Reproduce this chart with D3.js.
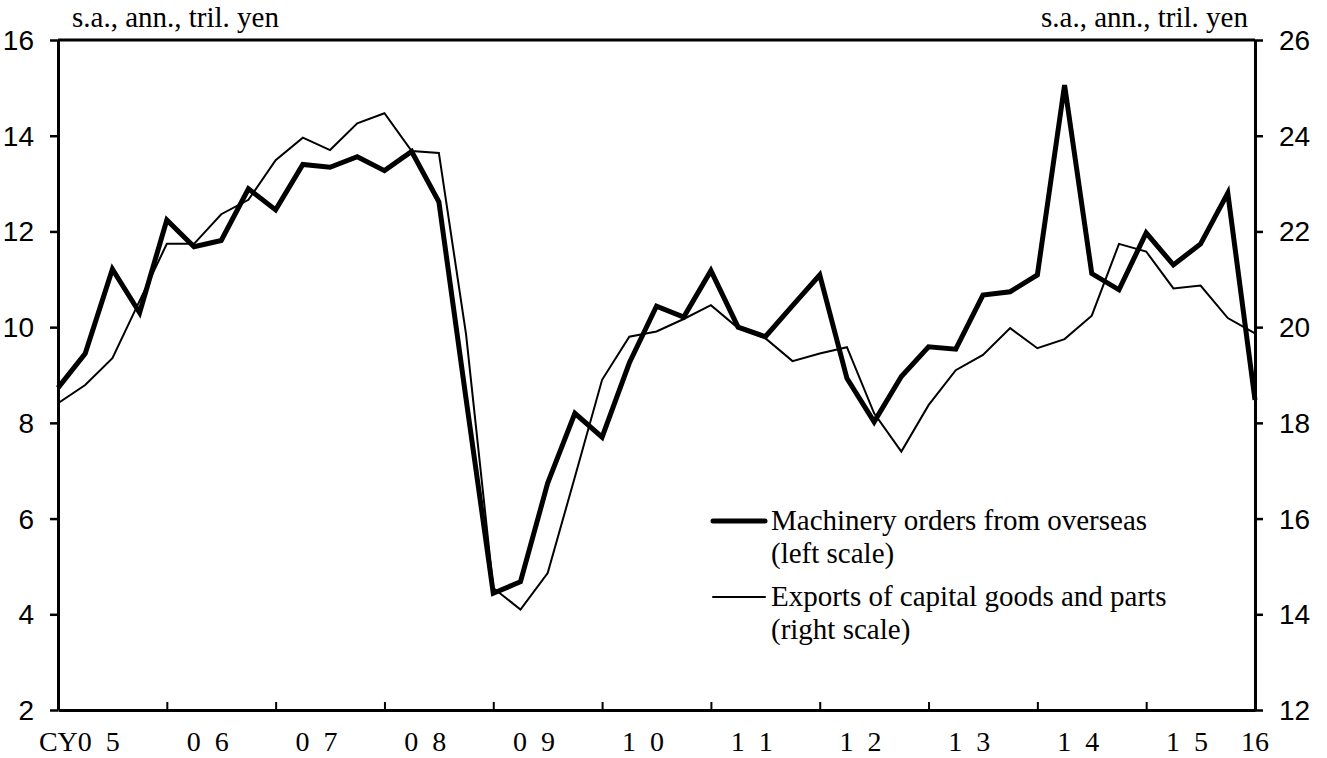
<!DOCTYPE html>
<html>
<head>
<meta charset="utf-8">
<script src="https://cdn.jsdelivr.net/npm/d3@7"></script>
<style>
  html, body { margin: 0; padding: 0; background: #fff; }
  svg { display: block; font-family: "Liberation Serif", "Times New Roman", serif; }
  .axis path, .axis line { stroke: #000; }
  .axis text { fill: #000; font-size: 28px; }
</style>
</head>
<body>
<svg id="chart" width="1327" height="758"></svg>
<script>
// Quarterly, CY2005 Q1 .. CY2016 Q1
const machineryOrders = [
  8.73, 9.45, 11.21, 10.30, 12.24, 11.68, 11.81, 12.89, 12.45, 13.40,
  13.34, 13.56, 13.27, 13.67, 12.62, 8.50, 4.44, 4.68, 6.74, 8.20,
  7.70, 9.25, 10.44, 10.21, 11.18, 10.00, 9.80, 10.45, 11.09, 8.93,
  8.02, 8.97, 9.59, 9.54, 10.67, 10.74, 11.09, 15.06, 11.12, 10.78,
  11.97, 11.30, 11.74, 12.80, 8.48
];
const capitalExports = [
  18.41, 18.79, 19.35, 20.55, 21.74, 21.74, 22.36, 22.66, 23.49, 23.96,
  23.70, 24.26, 24.47, 23.68, 23.64, 19.85, 14.55, 14.10, 14.86, 16.87,
  18.90, 19.80, 19.91, 20.17, 20.46, 19.98, 19.77, 19.29, 19.45, 19.58,
  18.20, 17.40, 18.37, 19.10, 19.42, 19.98, 19.56, 19.75, 20.24, 21.74,
  21.58, 20.81, 20.87, 20.19, 19.87
];
const yearLabels = ['CY0  5', '0  6', '0  7', '0  8', '0  9', '1  0', '1  1', '1  2', '1  3', '1  4', '1  5', '16'];
const leftTicks = [2, 4, 6, 8, 10, 12, 14, 16];
const rightTicks = [12, 14, 16, 18, 20, 22, 24, 26];
const unitLabel = 's.a., ann., tril. yen';
const legendItems = [
  { lines: ['Machinery orders from overseas', '(left scale)'], width: 5 },
  { lines: ['Exports of capital goods and parts', '(right scale)'], width: 2 },
];

const svg = d3.select('#chart');
const m = { left: 58, right: 1255, top: 40, bottom: 710 };

const x = d3.scaleLinear().domain([0, machineryOrders.length - 1]).range([m.left, m.right]);
const yL = d3.scaleLinear().domain([2, 16]).range([m.bottom, m.top]);
const yR = d3.scaleLinear().domain([12, 26]).range([m.bottom, m.top]);

// top border of the frame
svg.append('line')
  .attr('x1', m.left).attr('x2', m.right)
  .attr('y1', m.top).attr('y2', m.top)
  .attr('stroke', '#000').attr('stroke-width', 3);

// Y axes
const gL = svg.append('g').attr('class', 'axis')
  .attr('transform', `translate(${m.left},0)`)
  .call(d3.axisLeft(yL).tickValues(leftTicks).tickSize(8).tickSizeOuter(0).tickPadding(16));
const gR = svg.append('g').attr('class', 'axis')
  .attr('transform', `translate(${m.right},0)`)
  .call(d3.axisRight(yR).tickValues(rightTicks).tickSize(8).tickSizeOuter(0).tickPadding(16));
for (const g of [gL, gR]) {
  g.select('.domain').attr('stroke-width', 3);
  g.selectAll('.tick line').attr('stroke-width', 2.5);
  g.selectAll('.tick text').attr('dy', '0.34em');
}

// X axis: year boundaries (ticks point inward)
const gX = svg.append('g').attr('class', 'axis')
  .attr('transform', `translate(0,${m.bottom})`)
  .call(d3.axisBottom(x).tickValues(d3.range(4, 44, 4)).tickSize(-8).tickSizeOuter(0).tickFormat(''));
gX.select('.domain').attr('stroke-width', 3);
gX.selectAll('.tick line').attr('stroke-width', 2);

// X labels centred within each year, last one on the final quarter
const labelPos = yearLabels.map((_, k) => (k < yearLabels.length - 1 ? 4 * k + 1.5 : 44));
svg.append('g').selectAll('text').data(yearLabels).enter().append('text')
  .attr('x', (d, k) => x(labelPos[k]) + (k === 0 ? 21 : 0))
  .attr('y', 751)
  .attr('text-anchor', (d, k) => (k === 0 ? 'end' : 'middle'))
  .attr('font-size', 28)
  .style('white-space', 'pre')
  .text((d) => d);

// Unit labels
svg.append('text').attr('x', 72).attr('y', 27).attr('font-size', 29).text(unitLabel);
svg.append('text').attr('x', 1248).attr('y', 27).attr('font-size', 29)
  .attr('text-anchor', 'end').text(unitLabel);

// Series
const lineL = d3.line().x((d, i) => x(i)).y((d) => yL(d));
const lineR = d3.line().x((d, i) => x(i)).y((d) => yR(d));
svg.append('path').datum(capitalExports)
  .attr('d', lineR).attr('fill', 'none').attr('stroke', '#000').attr('stroke-width', 2);
svg.append('path').datum(machineryOrders)
  .attr('d', lineL).attr('fill', 'none').attr('stroke', '#000').attr('stroke-width', 5);

// Legend
const legend = svg.append('g').attr('transform', 'translate(713,0)');
const legendY = [521, 597];
legendItems.forEach((item, k) => {
  const y0 = legendY[k];
  legend.append('line')
    .attr('x1', 0).attr('x2', 52).attr('y1', y0).attr('y2', y0)
    .attr('stroke', '#000').attr('stroke-width', item.width)
    .attr('stroke-linecap', 'round');
  item.lines.forEach((t, j) => {
    legend.append('text')
      .attr('x', 58).attr('y', y0 + 8.5 + j * 33.5)
      .attr('font-size', 29)
      .text(t);
  });
});
</script>
</body>
</html>
